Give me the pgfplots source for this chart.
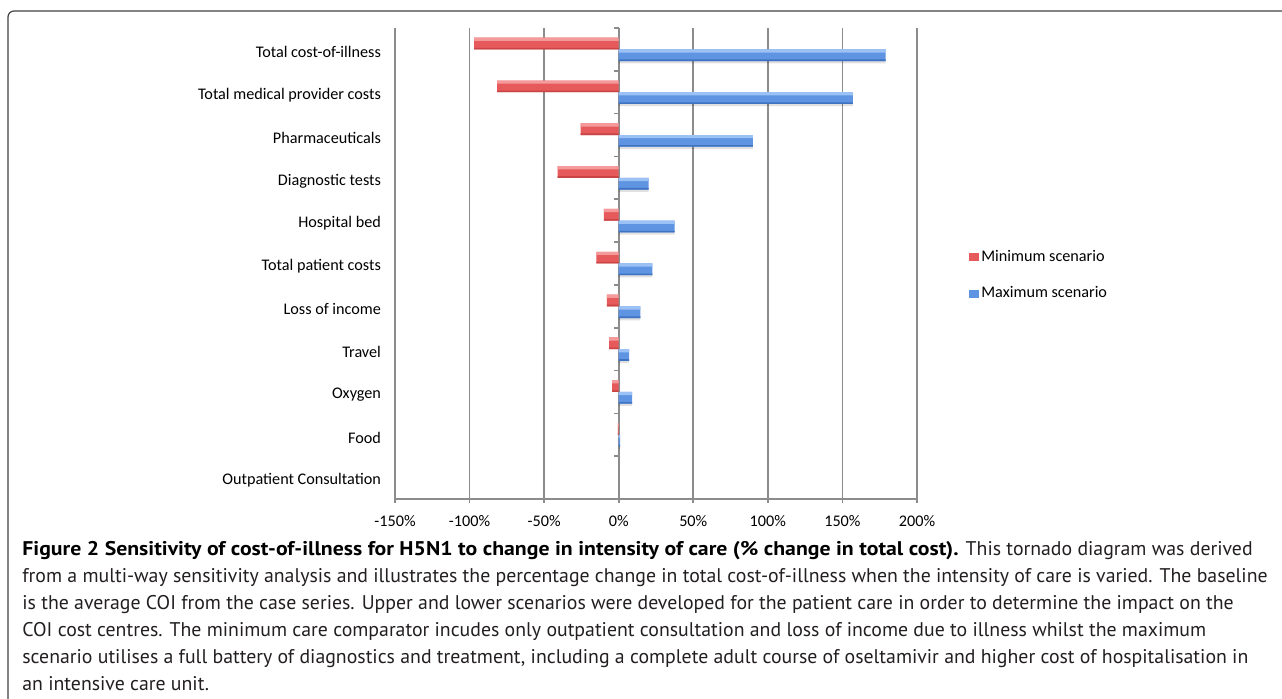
\documentclass[border=0pt]{standalone}
\usepackage{pgfplots}
\pgfplotsset{compat=1.18}
\usepackage{pgfplotstable}
\usepackage{fontspec}
\setmainfont{Carlito}
\newfontfamily\capfont{PT Sans}
\newfontfamily\capbold[FakeStretch=1.1]{PT Sans Bold}

\definecolor{gridgray}{HTML}{8C8C8C}
\definecolor{redtop}{HTML}{F59A9B}
\definecolor{redmid}{HTML}{E65A5C}
\definecolor{redbot}{HTML}{C84445}
\definecolor{bluetop}{HTML}{9CC2F5}
\definecolor{bluemid}{HTML}{5F94E2}
\definecolor{bluebot}{HTML}{3F73C2}
\definecolor{captext}{HTML}{231F20}

% y: 10 = top row (Total cost-of-illness) ... 1 = Food
% Outpatient Consultation (y=0) is 0 in both scenarios, so no bar
\pgfplotstableread{
y  val
10 -97
9  -81.5
8  -25.5
7  -41
6  -10
5  -15
4  -8
3  -6.5
2  -4.5
1  -0.6
}\minscen
\pgfplotstableread{
y  val
10 179
9  157
8  90
7  20
6  37.5
5  22.5
4  14.5
3  7
2  9
1  1
}\maxscen

\begin{document}
\begin{tikzpicture}
\useasboundingbox (0,0) rectangle (641pt,349.5pt);

% frame of the figure
\draw[line width=0.6pt, color=black!75, rounded corners=3pt]
  (4pt,-5pt) -- (4pt,344pt) -- (650pt,344pt);

\begin{axis}[
  scale only axis,
  width=261pt, height=235.5pt,
  at={(197.5pt,100pt)}, anchor=south west,
  xbar, bar width=5.85pt,
  xmin=-150, xmax=200, ymin=-0.5, ymax=10.5,
  axis x line*=bottom, axis y line*=left,
  y axis line style={draw=none},
  x axis line style={gridgray, line width=0.8pt},
  xtick={-150,-100,...,200},
  xticklabels={-150\%,-100\%,-50\%,0\%,50\%,100\%,150\%,200\%},
  xtick style={gridgray, line width=0.8pt},
  major tick length=2pt,
  tick align=outside,
  xmajorgrids,
  major grid style={gridgray, line width=0.8pt},
  ytick={0,...,10},
  yticklabels={Outpatient Consultation, Food\ , Oxygen\ , Travel\ , Loss of income,
    Total patient costs, Hospital bed\ , Diagnostic tests, Pharmaceuticals,
    Total medical provider costs, Total cost-of-illness},
  ytick style={draw=none},
  tick label style={font=\fontsize{8.1}{9}\selectfont},
  yticklabel style={xshift=-1.5pt, yshift=-1.5pt},
  xticklabel style={yshift=-2.5pt},
  legend style={at={(1.0996,0.4745)}, anchor=west, draw=none, fill=none,
    font=\fontsize{8.1}{9}\selectfont, row sep=9pt, inner sep=0pt,
    nodes={inner sep=1pt}},
  legend cell align=left,
  legend image code/.code={\fill[#1] (0pt,-2pt) rectangle (5pt,2pt);},
]
% main bars
\addplot[draw=none, fill=redmid, bar shift=2.925pt] table[x=val, y=y] {\minscen};
\addlegendentry{Minimum scenario}
\addplot[draw=none, fill=bluemid, bar shift=-2.925pt] table[x=val, y=y] {\maxscen};
\addlegendentry{Maximum scenario}
% soft shadow under the blue bars
\addplot[forget plot, draw=none, fill=black, fill opacity=0.12, bar width=1.2pt,
  bar shift=-6.4pt] table[x=val, y=y] {\maxscen};
% light top strip and dark bottom strip, for the glossy look of the bars
\addplot[forget plot, draw=none, fill=redtop, bar width=1.6pt, bar shift=5.05pt]
  table[x=val, y=y] {\minscen};
\addplot[forget plot, draw=none, fill=redbot, bar width=0.8pt, bar shift=0.4pt]
  table[x=val, y=y] {\minscen};
\addplot[forget plot, draw=none, fill=bluetop, bar width=1.6pt, bar shift=-0.8pt]
  table[x=val, y=y] {\maxscen};
\addplot[forget plot, draw=none, fill=bluebot, bar width=0.8pt, bar shift=-5.45pt]
  table[x=val, y=y] {\maxscen};

% small ticks on the zero line between categories
\pgfplotsinvokeforeach{-0.5,0.5,...,10.5}{
  \draw[gridgray, line width=0.8pt] (axis cs:0,#1) -- ([xshift=-2.5pt]axis cs:0,#1);
}
\end{axis}

\node[anchor=north west, inner sep=0pt, align=left, text=captext,
  font=\capfont\fontsize{9.9}{13.5}\selectfont] at (11pt,79pt) {%
{\capbold\color{black}Figure 2 Sensitivity of cost-of-illness for H5N1 to change in intensity of care (\% change in total cost).} This tornado diagram was derived\\
from a multi-way sensitivity analysis and illustrates the percentage change in total cost-of-illness when the intensity of care is varied. The baseline\\
is the average COI from the case series. Upper and lower scenarios were developed for the patient care in order to determine the impact on the\\
COI cost centres. The minimum care comparator incudes only outpatient consultation and loss of income due to illness whilst the maximum\\
scenario utilises a full battery of diagnostics and treatment, including a complete adult course of oseltamivir and higher cost of hospitalisation in\\
an intensive care unit.};
\end{tikzpicture}
\end{document}
